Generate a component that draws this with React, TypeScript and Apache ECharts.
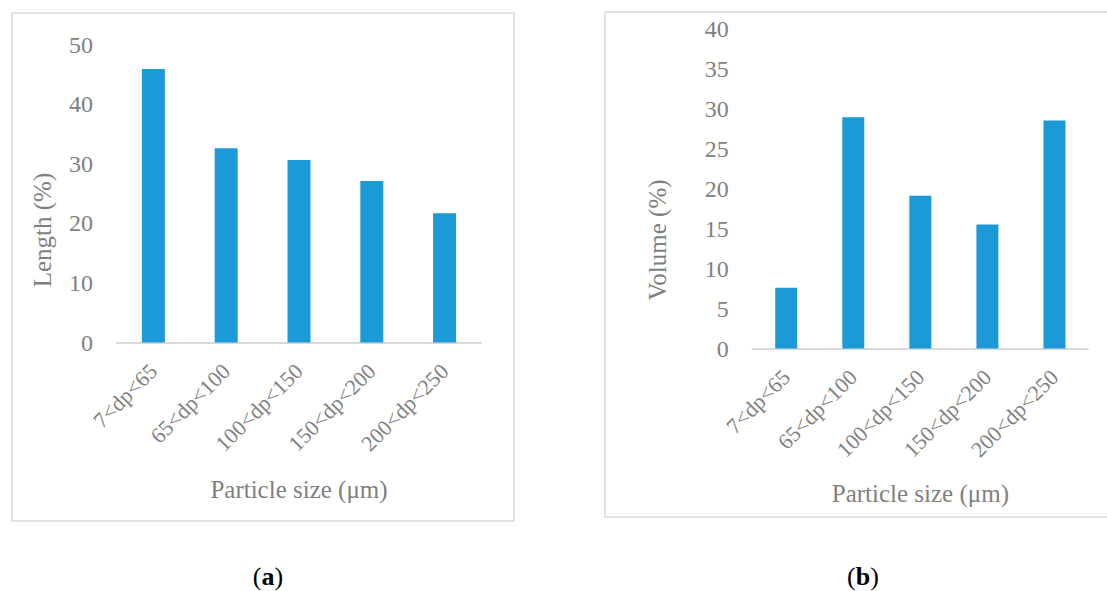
import React, { useEffect, useRef } from "react";
import * as echarts from "echarts";

const categories = ["7<dp<65", "65<dp<100", "100<dp<150", "150<dp<200", "200<dp<250"];
const lengthValues = [45.9, 32.6, 30.6, 27.1, 21.7];
const volumeValues = [7.6, 28.9, 19.1, 15.5, 28.5];
const xAxisTitle = "Particle size (μm)";
const lengthTitle = "Length (%)";
const volumeTitle = "Volume (%)";

const FONT = "'Liberation Serif', 'DejaVu Serif', serif";
const GRAY = "#7f7f7f";
const LINE = "#d9d9d9";
const BAR = "#1b9ad7";

export default function App() {
  const ref = useRef<HTMLDivElement>(null);
  useEffect(() => {
    if (!ref.current) return;
    const chart = echarts.init(ref.current, null, { renderer: "svg" });
    const xAxisBase = (gridIndex: number, gap: number) => ({
      type: "category",
      gridIndex,
      data: categories,
      axisLine: { show: true, lineStyle: { color: LINE, width: 2 } },
      axisTick: { show: false },
      axisLabel: {
        rotate: 45,
        interval: 0,
        margin: 25,
        color: GRAY,
        fontSize: 22,
        fontFamily: FONT,
      },
      name: xAxisTitle,
      nameLocation: "middle",
      nameGap: gap,
      nameTextStyle: { color: GRAY, fontSize: 25, fontFamily: FONT },
    });
    const yAxisBase = (gridIndex: number, max: number, interval: number) => ({
      type: "value",
      gridIndex,
      min: 0,
      max,
      interval,
      axisLine: { show: false },
      axisTick: { show: false },
      splitLine: { show: false },
      axisLabel: { margin: 24, color: GRAY, fontSize: 24, fontFamily: FONT },
    });
    const yName = (text: string, x: number, y: number) => ({
      type: "text",
      x,
      y,
      rotation: Math.PI / 2,
      style: {
        text,
        fill: GRAY,
        font: `25px ${FONT}`,
        align: "center",
        verticalAlign: "middle",
      },
    });
    const caption = (letter: string, x: number) => ({
      type: "text",
      x,
      y: 576,
      style: {
        text: `({b|${letter}})`,
        fill: "#000",
        font: `26px ${FONT}`,
        lineHeight: 24,
        align: "center",
        verticalAlign: "middle",
        rich: {
          b: { fontWeight: "bold", fontSize: 26, lineHeight: 24, fontFamily: FONT, fill: "#000" },
        },
      },
    });
    chart.setOption({
      animation: false,
      backgroundColor: "#ffffff",
      grid: [
        { left: 117, top: 44.5, width: 364, height: 298 },
        { left: 752.7, top: 28.5, width: 335.3, height: 320 },
      ],
      xAxis: [xAxisBase(0, 134), xAxisBase(1, 132)],
      yAxis: [yAxisBase(0, 50, 10), yAxisBase(1, 40, 5)],
      series: [
        {
          type: "bar",
          xAxisIndex: 0,
          yAxisIndex: 0,
          data: lengthValues,
          barWidth: 23,
          itemStyle: { color: BAR },
        },
        {
          type: "bar",
          xAxisIndex: 1,
          yAxisIndex: 1,
          data: volumeValues,
          barWidth: 22,
          itemStyle: { color: BAR },
        },
      ],
      graphic: [
        {
          type: "rect",
          shape: { x: 12, y: 13, width: 502, height: 508 },
          style: { fill: "none", stroke: LINE, lineWidth: 1.5 },
          silent: true,
        },
        {
          type: "rect",
          shape: { x: 605, y: 12, width: 520, height: 505 },
          style: { fill: "none", stroke: LINE, lineWidth: 1.5 },
          silent: true,
        },
        yName(lengthTitle, 42, 230),
        yName(volumeTitle, 657, 240),
        caption("a", 268),
        caption("b", 863),
      ],
    });
    return () => chart.dispose();
  }, []);
  return (
    <div
      ref={ref}
      style={{ position: "fixed", left: 0, top: 0, width: 1107, height: 591 }}
    />
  );
}
